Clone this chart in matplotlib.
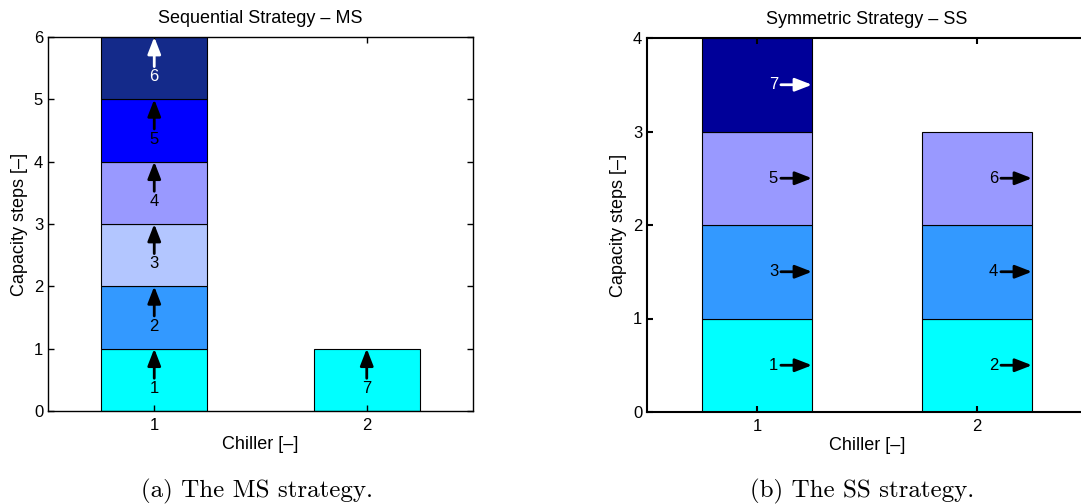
import numpy as np
import matplotlib
matplotlib.use("Agg")
import matplotlib.pyplot as plt

plt.rcParams['font.family'] = ['Liberation Sans', 'DejaVu Sans']

# switching order of the capacity steps (step number -> chiller)
steps = [1, 2, 3, 4, 5, 6, 7]
ms_chiller = [1, 1, 1, 1, 1, 1, 2]
ss_chiller = [1, 2, 1, 2, 1, 2, 1]
chillers = [1, 2]

# colours
ms_colors = ['#00FFFF', '#3399FF', '#B3C6FF', '#9999FF', '#0000FF', '#142A8A', '#00FFFF']
ss_colors = ['#00FFFF', '#3399FF', '#9999FF', '#000099']   # by level in the stack
ms_white = [6]
ss_white = [7]

fig = plt.figure(figsize=(10.81, 5.04), dpi=100)
ax1 = fig.add_axes([48/1081, 1-411/504, 425/1081, 374/504])
ax2 = fig.add_axes([647/1081, 1-412/504, 440/1081, 374/504])

bw = 0.5
arrow = '-|>,head_length=0.85,head_width=0.33'

def style(ax, ymax, title, lw):
    ax.set_xlim(0.5, 2.5)
    ax.set_ylim(0, ymax)
    ax.set_xticks(chillers)
    ax.set_yticks(range(ymax + 1))
    ax.tick_params(direction='in', top=True, right=True, length=4, labelsize=12, width=lw)
    ax.tick_params(axis='x', pad=5)
    for s in ax.spines.values():
        s.set_linewidth(lw)
    ax.set_title(title, fontsize=13, pad=10)
    ax.set_xlabel('Chiller [–]', fontsize=13, labelpad=2)
    ax.set_ylabel('Capacity steps [–]', fontsize=13, labelpad=4)

# --- MS: steps stacked vertically, arrows pointing up
level = {c: 0 for c in chillers}
for s, c, col in zip(steps, ms_chiller, ms_colors):
    y0 = level[c]
    ax1.bar(c, 1, bw, bottom=y0, color=col, edgecolor='black', linewidth=0.8)
    tc = 'white' if s in ms_white else 'black'
    ax1.annotate(str(s), xy=(c, y0 + 1), xytext=(c, y0 + 0.36), ha='center', va='center',
                 fontsize=12, color=tc,
                 arrowprops=dict(arrowstyle=arrow, color=tc, lw=2.0, shrinkA=0, shrinkB=0,
                                 mutation_scale=12))
    level[c] += 1
style(ax1, 6, 'Sequential Strategy – MS', 1.0)

# --- SS: steps alternate between chillers, arrows pointing right
level = {c: 0 for c in chillers}
for s, c in zip(steps, ss_chiller):
    y0 = level[c]
    ax2.bar(c, 1, bw, bottom=y0, color=ss_colors[y0], edgecolor='black', linewidth=0.8)
    tc = 'white' if s in ss_white else 'black'
    ax2.annotate(str(s), xy=(c + bw/2, y0 + 0.5), xytext=(c + 0.075, y0 + 0.5), ha='center', va='center',
                 fontsize=12, color=tc,
                 arrowprops=dict(arrowstyle=arrow, color=tc, lw=2.0, shrinkA=0, shrinkB=0,
                                 mutation_scale=12))
    level[c] += 1
style(ax2, 4, 'Symmetric Strategy – SS', 1.5)

# sub-figure captions
fig.text(257/1081, 1-497/504, '(a) The MS strategy.', family='cmr10', fontsize=18, ha='center', va='baseline')
fig.text(862/1081, 1-497/504, '(b) The SS strategy.', family='cmr10', fontsize=18, ha='center', va='baseline')

fig.savefig('out.png', dpi=100)
